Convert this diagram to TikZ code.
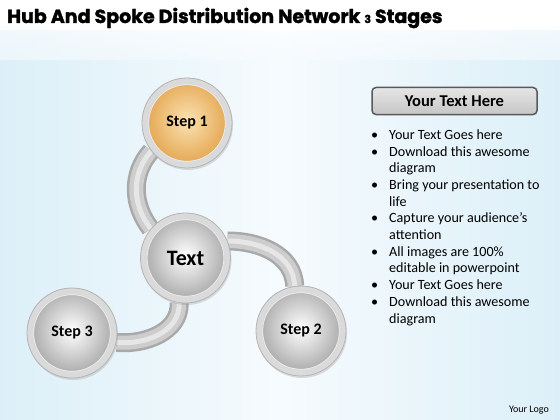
\documentclass[tikz,border=0pt]{standalone}
\usepackage{fontspec}
\setmainfont{Carlito}
\newfontfamily\titlefont[BoldFeatures={FakeBold=1.6}]{Poppins}
\usetikzlibrary{shadows}
\pgfdeclarelayer{bg}
\pgfdeclarelayer{tubes}
\pgfsetlayers{bg,tubes,main}
\definecolor{bgblue}{HTML}{DCEFF8}
\definecolor{bgwhite}{HTML}{F6FBFE}
\definecolor{ringgray}{HTML}{DADADA}
\definecolor{ringedge}{HTML}{B5B5B5}
\definecolor{tubeedge}{HTML}{A9A9A9}
\definecolor{tubemid}{HTML}{CDCDCD}
\definecolor{tubelight}{HTML}{E6E6E6}
\definecolor{discout}{HTML}{A3A3A3}
\definecolor{orangein}{HTML}{FBE2B2}
\definecolor{orangeout}{HTML}{E2A24A}
\begin{document}
\begin{tikzpicture}[x=1pt,y=1pt,
  hubring/.style={circle, minimum size=90pt, inner sep=0pt, fill=ringgray, draw=ringedge, line width=0.8pt,
    drop shadow={opacity=0.25, shadow xshift=1pt, shadow yshift=-2pt},
    font=\fontsize{16}{18}\selectfont\bfseries,
    path picture={\shade[inner color=white, outer color=discout] ([yshift=6pt]path picture bounding box.center) circle (44pt);
                  \draw[white!85!gray, line width=1.2pt] (path picture bounding box.center) circle (38.5pt);
                  \draw[ringgray, line width=6.5pt] (path picture bounding box.center) circle (42pt);}},
  orangering/.style={hubring,
    path picture={\shade[inner color=orangein, outer color=orangeout] ([yshift=6pt]path picture bounding box.center) circle (44pt);
                  \draw[white!85!gray, line width=1.2pt] (path picture bounding box.center) circle (38.5pt);
                  \draw[ringgray, line width=6.5pt] (path picture bounding box.center) circle (42pt);}},
  tube/.style={line width=14pt, draw=tubemid, preaction={draw=tubeedge, line width=19pt}, postaction={draw=tubelight, line width=5pt}},
  headbox/.style={rounded corners=4pt, draw=gray!70!black, line width=1.5pt, top color=gray!20, bottom color=gray!45,
    minimum width=165pt, minimum height=27pt, font=\fontsize{16.5}{18}\selectfont\bfseries},
  listtext/.style={anchor=north west, inner sep=0pt, align=left, font=\fontsize{14.1}{16.7}\selectfont}
]
\useasboundingbox (0,0) rectangle (560,-420);
\begin{pgfonlayer}{bg}
  \shade[left color=bgblue, right color=bgblue, middle color=bgwhite] (0,-30) rectangle (560,-420);
  \fill[white] (0,0) rectangle (560,-30);
  \shade[top color=white, bottom color=white!0!bgwhite, opacity=0.6] (0,-30) rectangle (560,-60);
\end{pgfonlayer}
% title
\node[anchor=base west, inner sep=0pt, font=\titlefont\bfseries\fontsize{19}{21}\selectfont] (title) at (7,-23)
  {Hub And Spoke Distribution Network {\fontsize{11}{12}\selectfont 3} Stages};
% hubs
\node[orangering] (s1) at (187,-123) {Step 1};
\node[hubring, font=\fontsize{22}{24}\selectfont\bfseries] (hub) at (185.5,-258) {Text};
\node[hubring] (s3) at (72,-333) {Step 3};
\node[hubring] (s2) at (301,-331) {Step 2};
% tubes
\begin{pgfonlayer}{tubes}
  \draw[tube] (s1.218) to[out=228, in=128] (hub.140);
  \draw[tube] (hub.22) to[out=0, in=92] (s2.98);
  \draw[tube] (hub.262) to[out=272, in=-5] (s3.-12);
\end{pgfonlayer}
% right panel
\node[headbox] (head) at (454.5,-101) {Your Text Here};
\node[listtext] (list) at (371,-127.5) {%
\begin{tabular}{@{}l@{\hspace{11pt}}l@{}}
\textbullet & Your Text Goes here\\
\textbullet & Download this awesome\\
 & diagram\\
\textbullet & Bring your presentation to\\
 & life\\
\textbullet & Capture your audience’s\\
 & attention\\
\textbullet & All images are 100\%\\
 & editable in powerpoint\\
\textbullet & Your Text Goes here\\
\textbullet & Download this awesome\\
 & diagram
\end{tabular}};
\node[anchor=base east, inner sep=0pt, font=\fontsize{10}{12}\selectfont] (logo) at (549,-412) {Your Logo};
\end{tikzpicture}
\end{document}
